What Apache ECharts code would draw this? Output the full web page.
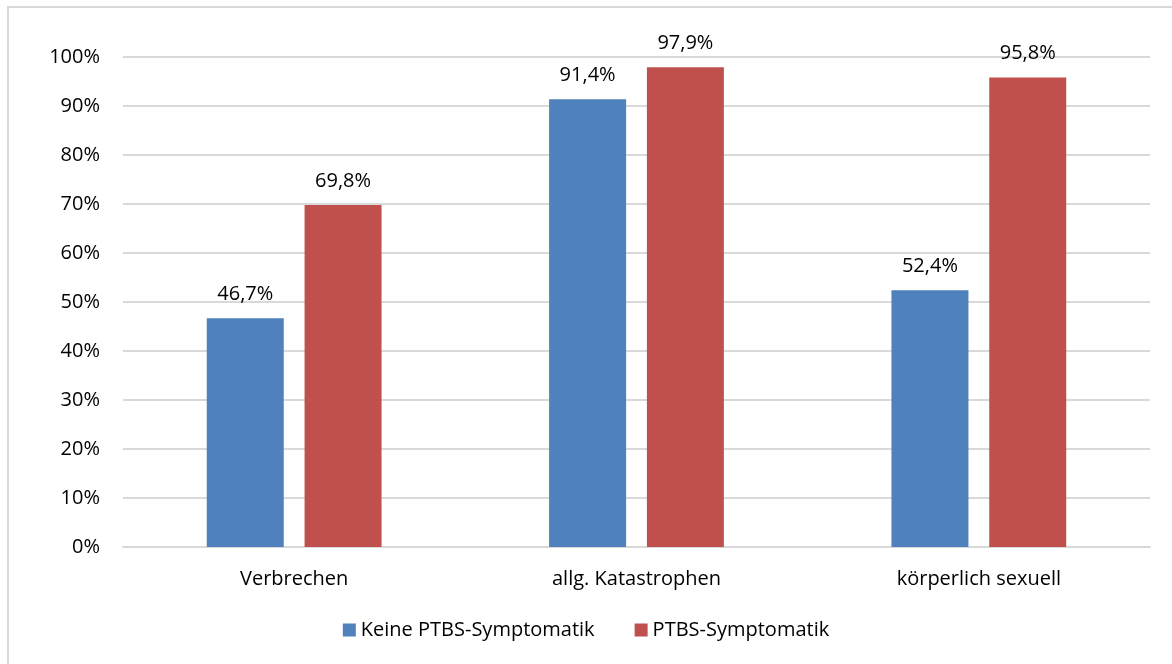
<!DOCTYPE html>
<html>
<head>
<meta charset="utf-8">
<script src="https://cdn.jsdelivr.net/npm/echarts@6/dist/echarts.min.js"></script>
<style>
    html, body { margin: 0; padding: 0; background: #fff; }
    #frame {
        position: absolute; left: 7px; top: 6px; width: 1180px; height: 680px;
        border: 2px solid #d9d9d9; box-sizing: border-box;
    }
    #barChart { position: absolute; left: 0; top: 0; width: 1172px; height: 664px; }
</style>
</head>
<body>
<div id="frame"></div>
<div id="barChart"></div>
<script>
const categories = ['Verbrechen', 'allg. Katastrophen', 'körperlich sexuell'];
const keineValues = [46.7, 91.4, 52.4];
const ptbsValues = [69.8, 97.9, 95.8];
const seriesNames = ['Keine PTBS-Symptomatik', 'PTBS-Symptomatik'];

function loadBarChart() {
    const chartDom = document.getElementById('barChart');
    const myChart = echarts.init(chartDom);
    const font = '"Open Sans", "Liberation Sans", sans-serif';

    const labelStyle = {
        show: true,
        position: 'top',
        distance: 14,
        color: '#000',
        fontFamily: font,
        fontSize: 20,
        formatter: p => p.value.toFixed(1).replace('.', ',') + '%'
    };

    const option = {
        animation: false,
        grid: { left: 123, right: 22, top: 57, bottom: 117 },
        legend: {
            data: seriesNames,
            bottom: 19,
            left: 'center',
            itemWidth: 13,
            itemHeight: 13,
            itemGap: 40,
            icon: 'rect',
            textStyle: { fontFamily: font, fontSize: 20, color: '#000' }
        },
        xAxis: {
            type: 'category',
            data: categories,
            axisLine: { lineStyle: { color: '#d9d9d9', width: 2 } },
            axisTick: { show: false },
            axisLabel: { color: '#000', fontFamily: font, fontSize: 20, margin: 22 }
        },
        yAxis: {
            type: 'value',
            min: 0,
            max: 100,
            interval: 10,
            axisLine: { show: false },
            axisTick: { show: false },
            splitLine: { lineStyle: { color: '#d9d9d9', width: 2 } },
            axisLabel: {
                color: '#000', fontFamily: font, fontSize: 20, margin: 23,
                formatter: '{value}%'
            }
        },
        series: [
            {
                name: seriesNames[0],
                type: 'bar',
                data: keineValues,
                barWidth: 77,
                barGap: '27%',
                itemStyle: { color: '#4F81BD' },
                label: labelStyle
            },
            {
                name: seriesNames[1],
                type: 'bar',
                data: ptbsValues,
                barWidth: 77,
                itemStyle: { color: '#C0504D' },
                label: labelStyle
            }
        ]
    };

    myChart.setOption(option);
}
loadBarChart();
</script>
</body>
</html>
